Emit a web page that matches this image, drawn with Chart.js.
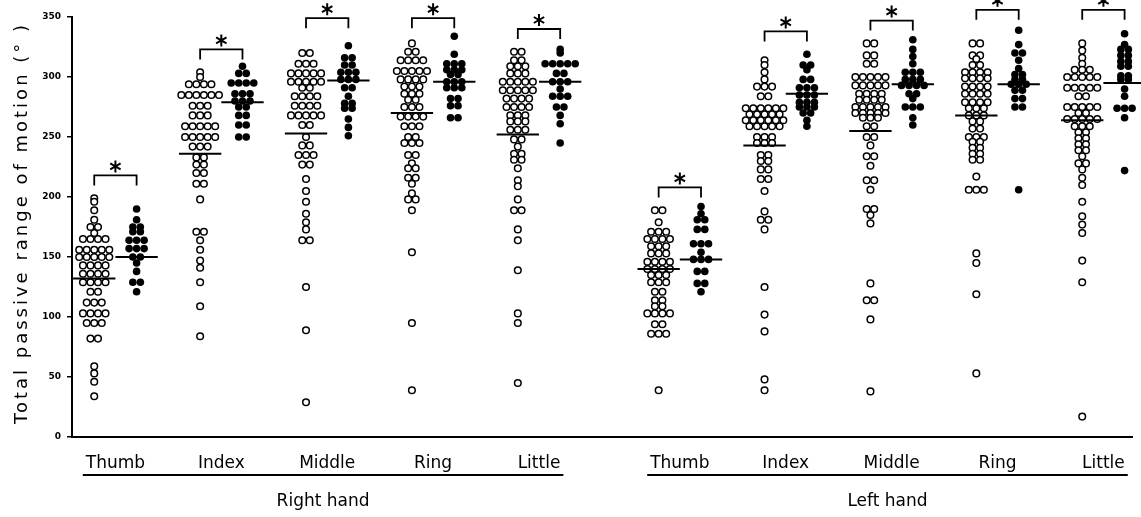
<!DOCTYPE html>
<html><head><meta charset="utf-8">
<script src="https://cdn.jsdelivr.net/npm/chart.js@4/dist/chart.umd.min.js"></script>
<style>html,body{margin:0;padding:0;background:#fff}#wrap{width:1141px;height:517px;position:relative}</style>
</head><body><div id="wrap"><canvas id="c"></canvas></div>
<script>
// ---------- data ----------
const fingers = ['Thumb','Index','Middle','Ring','Little'];
const hands = ['Right hand','Left hand'];
const yAxisTitle = 'Total passive range of motion (° )';

const rightThumbOpen = [199,196,189,181,175,175,170,165,165,165,165,156,156,156,156,156,150,150,150,150,150,143,143,143,143,136,136,136,136,129,129,129,129,121,121,112,112,112,103,103,103,103,95,95,95,82,82,59,53,46,34];
const rightThumbFilled = [190,181,175,175,171,171,164,164,164,157,157,157,150,150,145,138,129,129,121];
const rightIndexOpen = [304,300,294,294,294,294,285,285,285,285,285,285,276,276,276,268,268,268,259,259,259,259,259,250,250,250,250,250,242,242,242,233,233,227,227,220,220,211,211,198,171,171,164,156,147,141,129,109,84];
const rightIndexFilled = [309,303,303,295,295,295,295,286,286,286,280,280,280,275,275,268,268,260,260,250,250];
const rightMiddleOpen = [320,320,311,311,311,303,303,303,303,303,296,296,296,296,296,291,291,284,284,284,284,276,276,276,276,268,268,268,268,268,260,260,250,243,243,235,235,235,227,227,215,205,196,186,179,173,164,164,125,89,29];
const rightMiddleFilled = [326,316,316,310,310,304,304,304,298,298,298,291,291,284,278,278,274,274,265,258,251];
const rightRingOpen = [328,321,321,314,314,314,314,305,305,305,305,305,298,298,298,298,292,292,292,286,286,286,281,281,275,275,275,267,267,267,267,259,259,259,250,250,245,245,245,235,235,228,224,224,216,216,211,203,198,198,189,154,95,39];
const rightRingFilled = [334,319,311,311,311,306,306,306,302,302,296,296,296,291,291,291,282,282,276,276,266,266];
const rightLittleOpen = [321,321,314,314,309,309,309,303,303,303,296,296,296,296,296,289,289,289,289,289,282,282,282,282,275,275,275,275,268,268,268,263,263,263,256,256,256,248,248,242,236,236,231,231,224,214,209,198,189,189,173,164,139,103,95,45];
const rightLittleFilled = [323,320,311,311,311,311,311,303,303,296,296,296,290,284,284,284,275,275,268,261,245];

const leftThumbOpen = [189,189,179,171,171,171,165,165,165,165,159,159,159,153,153,153,146,146,146,146,140,140,140,140,135,135,135,129,129,129,121,121,114,114,109,109,103,103,103,103,94,94,86,86,86,39];
const leftThumbFilled = [192,186,181,181,173,173,161,161,161,154,148,148,148,138,138,128,128,121];
const leftIndexOpen = [314,310,304,298,292,292,292,284,284,274,274,274,274,274,274,269,269,269,269,269,264,264,264,264,264,264,259,259,259,259,259,250,250,250,245,245,245,235,235,230,230,223,223,215,215,205,188,181,181,173,125,102,88,48,39];
const leftIndexFilled = [319,310,310,306,298,298,291,291,291,285,285,285,279,279,279,275,275,275,270,270,264,259];
const leftMiddleOpen = [328,328,318,318,311,311,300,300,300,300,300,293,293,293,293,293,286,286,286,286,281,281,281,281,275,275,275,275,275,270,270,270,270,270,266,266,266,259,259,250,250,243,234,234,226,214,214,206,190,190,185,178,128,114,114,98,38];
const leftMiddleFilled = [331,323,317,311,304,304,304,298,298,298,293,293,293,293,286,286,282,275,275,275,266,260];
const leftRingOpen = [328,328,318,318,315,310,310,304,304,304,304,299,299,299,299,292,292,292,292,286,286,286,286,279,279,279,279,274,274,274,268,268,268,263,263,257,257,250,250,250,246,246,241,241,236,236,231,231,217,206,206,206,153,145,119,53];
const leftRingFilled = [339,327,320,320,314,307,302,302,298,298,294,294,294,289,289,282,282,275,275,206];
const leftLittleOpen = [328,322,316,311,306,306,306,300,300,300,300,300,291,291,291,291,291,284,284,275,275,275,275,275,270,270,265,265,265,265,265,259,259,259,254,254,249,249,244,244,239,239,234,228,228,223,216,210,196,184,177,170,147,129,17];
const leftLittleFilled = [336,327,323,323,318,318,313,313,309,309,301,301,298,298,290,284,274,274,274,266,222];

const openGroups = [rightThumbOpen,rightIndexOpen,rightMiddleOpen,rightRingOpen,rightLittleOpen,leftThumbOpen,leftIndexOpen,leftMiddleOpen,leftRingOpen,leftLittleOpen];
const filledGroups = [rightThumbFilled,rightIndexFilled,rightMiddleFilled,rightRingFilled,rightLittleFilled,leftThumbFilled,leftIndexFilled,leftMiddleFilled,leftRingFilled,leftLittleFilled];
const openMeans = [132,236,253,270,252,140,243,255,268,264];
const filledMeans = [150,279,297,296,296,148,286,294,294,295];
const bracketLevels = [218,323,349,349,340,208,338,347,356,356];

// ---------- layout ----------
const HAND_GAP = 0.33, PAIR_OFFSET = 0.2, DOT_STEP = 0.071, MEAN_HALF = 0.2;
function centre(g){ const h = Math.floor(g/5), f = g%5; return h*(5+HAND_GAP)+f; }
function swarm(values, cx){
  const counts = {}; values.forEach(v => counts[v] = (counts[v]||0)+1);
  const seen = {};
  return values.map(v => {
    const n = counts[v]; seen[v] = (seen[v]===undefined?0:seen[v]+1);
    return {x: cx + (seen[v]-(n-1)/2)*DOT_STEP, y: v};
  });
}
const tickPositions = [];
for (let g=0; g<10; g++) tickPositions.push(centre(g));

const datasets = [];
for (let g=0; g<10; g++){
  const c = centre(g);
  datasets.push({type:'scatter', data: swarm(openGroups[g], c-PAIR_OFFSET), pointRadius:3.3, pointBorderWidth:1.5,
    pointBackgroundColor:'#fff', pointBorderColor:'#000', order:2, clip:false});
  datasets.push({type:'scatter', data: swarm(filledGroups[g], c+PAIR_OFFSET), pointRadius:3.8, pointBorderWidth:0,
    pointBackgroundColor:'#000', pointBorderColor:'#000', order:2, clip:false});
  datasets.push({type:'line', data:[{x:c-PAIR_OFFSET-MEAN_HALF,y:openMeans[g]},{x:c-PAIR_OFFSET+MEAN_HALF,y:openMeans[g]}],
    borderColor:'#000', borderWidth:2, pointRadius:0, order:1, clip:false});
  datasets.push({type:'line', data:[{x:c+PAIR_OFFSET-MEAN_HALF,y:filledMeans[g]},{x:c+PAIR_OFFSET+MEAN_HALF,y:filledMeans[g]}],
    borderColor:'#000', borderWidth:2, pointRadius:0, order:1, clip:false});
}

const FONT = '"DejaVu Sans", sans-serif';
const extras = {
  id:'extras',
  afterDraw(chart){
    const ctx = chart.ctx, xs = chart.scales.x, ys = chart.scales.y;
    ctx.save();
    ctx.strokeStyle = '#000'; ctx.fillStyle = '#000';
    for (let g=0; g<10; g++){
      const c = centre(g);
      const x1 = xs.getPixelForValue(c-PAIR_OFFSET), x2 = xs.getPixelForValue(c+PAIR_OFFSET);
      const y = ys.getPixelForValue(bracketLevels[g]);
      ctx.lineWidth = 1.8;
      ctx.beginPath(); ctx.moveTo(x1, y+10); ctx.lineTo(x1, y); ctx.lineTo(x2, y); ctx.lineTo(x2, y+10); ctx.stroke();
      const cx = (x1+x2)/2, cy = y-9;
      ctx.lineWidth = 2;
      ctx.beginPath();
      ctx.moveTo(cx, cy-6); ctx.lineTo(cx, cy+6);
      ctx.moveTo(cx-5.2, cy-3); ctx.lineTo(cx+5.2, cy+3);
      ctx.moveTo(cx-5.2, cy+3); ctx.lineTo(cx+5.2, cy-3);
      ctx.stroke();
    }
    ctx.font = '17px ' + FONT;
    for (let h=0; h<2; h++){
      const first = xs.getPixelForValue(centre(h*5)), last = xs.getPixelForValue(centre(h*5+4));
      const w1 = ctx.measureText(fingers[0]).width, w2 = ctx.measureText(fingers[4]).width;
      const a = first - w1/2 - 3, b = last + w2/2 + 3;
      ctx.lineWidth = 2;
      ctx.beginPath(); ctx.moveTo(a, 475); ctx.lineTo(b, 475); ctx.stroke();
      ctx.textAlign = 'center'; ctx.textBaseline = 'middle';
      ctx.fillText(hands[h], (a+b)/2, 502);
    }
    ctx.translate(22, 223); ctx.rotate(-Math.PI/2);
    ctx.font = '18px ' + FONT;
    try { ctx.letterSpacing = '3px'; } catch(e) {}
    ctx.textAlign = 'center'; ctx.textBaseline = 'middle';
    ctx.fillText(yAxisTitle, 0, 0);
    ctx.restore();
  }
};

new Chart(document.getElementById('c'), {
  data: {datasets},
  options: {
    responsive:true, maintainAspectRatio:false, animation:false,
    layout:{padding:{top:17,right:9,bottom:0,left:0}},
    plugins:{legend:{display:false}, tooltip:{enabled:false}},
    scales:{
      x:{type:'linear', min:-0.41, max:9.6,
        afterBuildTicks(s){ s.ticks = tickPositions.map(v => ({value:v})); },
        afterFit(s){ s.height = 80; },
        grid:{display:false}, border:{display:true, color:'#000', width:2},
        ticks:{autoSkip:false, maxRotation:0, padding:8, color:'#000', font:{family:FONT, size:17},
          callback:(v, i) => fingers[i % 5]}},
      y:{type:'linear', min:0, max:350,
        afterFit(s){ s.width = 72; },
        grid:{drawOnChartArea:false, drawTicks:true, tickLength:5, color:'#000', lineWidth:1.5},
        border:{display:true, color:'#000', width:2},
        ticks:{stepSize:50, padding:6, color:'#000', font:{family:FONT, size:9, weight:'bold'}}}
    }
  },
  plugins:[extras]
});
</script></body></html>
